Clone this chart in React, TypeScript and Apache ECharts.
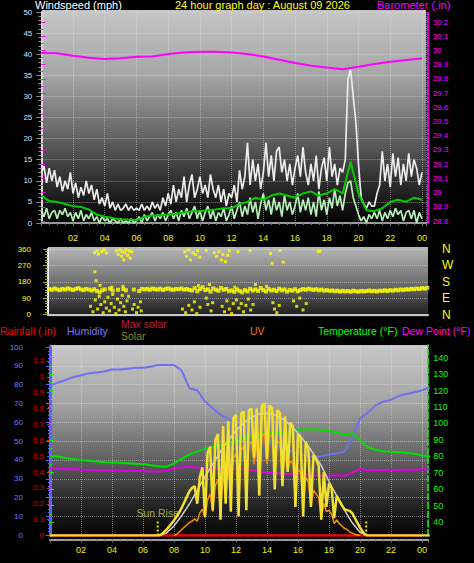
import React, { useEffect, useRef } from 'react';
import * as echarts from 'echarts';

const FONT = '"Liberation Sans", Arial, sans-serif';

// ---------- Wind (mph), 10-minute samples from 00:00 ----------
const windGust = [
  12, 13.5, 9.5, 13, 10, 12.5, 8.5, 11, 7.5, 10,
  8, 12, 7, 9.5, 6, 8.5, 6.5, 10, 7, 9,
  5.5, 8, 4.5, 6, 4, 7, 3.5, 5, 3, 4.5,
  3, 3.5, 4.5, 3, 4, 3, 3.5, 3, 4.5, 3,
  4, 3, 5, 3.5, 4.5, 3, 6, 4, 7, 4.5,
  9, 5, 8, 6, 11, 5, 9, 11.5, 6, 8,
  11, 7, 9, 6, 11.5, 8, 6, 9, 5, 8,
  4, 7, 6, 9, 5, 12.5, 8, 11, 19, 9,
  15, 10, 14, 8, 12, 19, 11, 16, 10, 17,
  18, 12, 15, 10, 14, 9, 13, 16, 11, 18,
  12, 9, 14, 10, 16, 8, 13, 15.5, 10, 18,
  11, 14, 9, 13, 12, 15, 34, 36.5, 30, 24,
  14, 6, 4.5, 3.5, 5, 4, 4, 7, 9, 17,
  10, 14, 8.5, 16.5, 11, 15.5, 9, 14, 10, 16.5,
  11, 15, 13, 9, 12,
];
const windAvg = [
  3, 1.5, 3.5, 1, 2.5, 3, 1, 3, 2, 3.5,
  1.5, 2.5, 0.5, 2.5, 1, 3, 0.5, 2, 1, 2.5,
  0.5, 1.5, 0, 1.5, 0.5, 1, 0, 1, 0.5, 0,
  1, 0, 0.5, 0, 1, 0, 0.5, 1.5, 0, 2,
  0.5, 1.5, 2.5, 0.5, 2, 1, 2.5, 0.5, 2, 3,
  1, 2.5, 0.5, 3, 1.5, 3.5, 1, 2.5, 4, 1,
  3, 0.5, 2.5, 4, 1, 3, 0.5, 2.5, 1.5, 3.5,
  0.5, 2, 4, 1, 3, 5, 1.5, 4, 2, 6,
  2.5, 5, 1, 4.5, 7, 3, 5.5, 2, 6, 3,
  5, 1.5, 6.5, 3, 5, 2, 4, 7, 2.5, 5.5,
  3, 6, 2, 5, 1.5, 7.5, 3, 5.5, 2, 6,
  3.5, 8, 4, 6.5, 3, 7, 9.5, 10, 6, 4,
  2, 0.5, 1.5, 0, 2, 1, 2.5, 1, 3, 0.5,
  2.5, 1, 3, 1.5, 3.5, 2, 3, 0.5, 2.5, 3,
  1, 3, 0, 2.5, 1,
];
// 10-minute average wind, 30-minute samples from 00:00
const windAvg10 = [
  6.5, 5.2, 5, 4.5, 4, 3.8, 3.2, 2, 1.5, 1.2,
  0.8, 0.8, 0.7, 1.5, 1.8, 1.8, 2, 2.2, 2.5, 2.8,
  2.8, 3, 3.2, 3.5, 3.5, 4.5, 5, 6, 5.5, 6.5,
  7, 6.5, 6, 7, 7.5, 6.5, 7, 8, 7, 14.5,
  7, 3, 2.8, 3.5, 5, 5.5, 5, 6, 5.5,
];
// Barometer (in), hourly from 00:00
const barometer = [
  29.982, 29.98, 29.962, 29.948, 29.94, 29.945, 29.955, 29.958, 29.975, 29.985,
  29.99, 29.99, 29.985, 29.975, 29.958, 29.935, 29.912, 29.893, 29.88, 29.868,
  29.885, 29.905, 29.92, 29.932, 29.944,
];

// ---------- Wind direction (deg), 10-minute samples from 00:30 ----------
const windDirBand: (number | null)[] = [
  140, 136, 143, 138, 134, 141, 137, 144, 139, 135, 140, 145, 138, 134, 141, 137, 132, 139,
  130, 122, 133,
  138, null, 142, 131, null, 136, null, 140, 133, null, null, 137, null, 129, 141,
  138, 141, 136, 143, 139, 137, 142, 135, 140, 144, 138, 136, 141, 139, 143, 137, 140, 135,
  132, 145, 128, 140, 150, 134, 138, 126, 143, 137, 131, 146,
  136, 140, 128, 133, 125, 138, 130, 122, 135, 127, 141, 132,
  138, 130, 145, 134, 127, 140, 132, 136, 129, 142, 133, 138, 126, 135, 131, 139, 128, 134,
  140, 136, 142, 138, 135, 139, 133, 137, 131, 134, 130, 132,
  128, 131, 126, 130, 127, 129, 125, 131, 128, 126, 130, 127, 129, 132, 128, 130, 127, 131,
  130, 133, 129, 134, 131, 136, 133, 138, 135, 139, 137, 141, 139, 143, 140, 145, 142, 147,
];
const windDirScatter: [number, number][] = [
  [3.35, 340], [3.5, 350], [3.6, 332], [3.8, 345], [3.95, 355], [4.1, 338], [3.38, 235], [3.45, 186],
  [4.75, 350], [4.85, 330], [4.95, 355], [5.05, 320], [5.1, 345], [5.2, 300], [5.25, 340], [5.35, 355],
  [5.45, 325], [5.55, 350], [5.6, 310], [5.7, 345],
  [9.05, 345], [9.15, 320], [9.3, 355], [9.4, 300], [9.55, 340], [9.7, 330], [9.85, 350], [10.0, 315], [10.4, 352],
  [10.9, 340], [11.05, 320], [11.2, 345], [11.35, 300], [11.45, 330], [11.6, 290], [11.75, 325], [11.85, 350], [12.4, 345],
  [13.15, 352], [14.45, 335], [14.55, 282], [15.05, 352], [15.25, 288], [17.45, 348], [17.55, 348],
  [3.1, 45], [3.25, 15], [3.4, 80], [3.55, 30], [3.65, 100], [3.75, 55], [3.9, 10], [4.0, 70], [4.1, 35],
  [4.2, 95], [4.3, 20], [4.4, 60], [4.5, 110], [4.6, 40], [4.7, 5], [4.8, 85], [4.9, 25], [5.0, 65],
  [5.1, 105], [5.2, 45], [5.3, 15], [5.4, 75], [5.5, 100],
  [5.75, 30], [5.85, 55], [6.0, 10], [6.1, 40], [6.25, 70], [6.3, 20],
  [8.9, 30], [9.1, 10], [9.3, 50], [9.5, 25], [9.65, 70], [9.8, 5], [10.0, 40],
  [10.4, 90], [10.5, 55], [10.7, 20], [10.8, 65],
  [11.4, 45], [11.55, 15], [11.7, 75], [11.85, 30], [12.0, 5], [12.1, 60],
  [12.3, 80], [12.45, 35], [12.6, 60], [12.75, 15], [12.9, 50], [13.05, 85], [13.2, 25], [13.35, 55],
  [14.6, 65], [14.7, 30], [14.85, 10], [15.0, 50],
  [15.9, 75], [16.1, 45], [16.3, 90], [16.5, 25], [16.7, 60],
  [3.7, 160], [4.45, 150], [5.15, 155], [9.9, 160], [10.6, 165], [12.2, 150], [13.5, 165], [14.2, 155],
];

// ---------- Bottom panel, 30-minute samples from 00:00 ----------
const humidity = [
  79.5, 81, 82.5, 84, 85, 86, 86.5, 87, 88, 88,
  88.5, 89, 89, 89.5, 90.5, 90.5, 90.5, 87.5, 78, 77,
  71, 67.5, 64, 62, 59, 57, 54, 51, 49, 48,
  46.5, 45, 43.5, 42.5, 41.5, 42, 43, 43.5, 44.5, 52,
  62, 65, 69, 71, 72, 74, 75, 76, 77, 78.5,
];
const temperature = [
  80, 79.8, 79, 78.3, 77.8, 77.3, 76.8, 76.4, 76.2, 76,
  75.8, 75.5, 75.3, 74.6, 74, 73.7, 75.5, 78.5, 81, 83,
  84.5, 85.5, 86.5, 88, 89.5, 91, 92, 93.5, 94.5, 94.5,
  94.5, 95, 96, 96.5, 96.5, 96, 95.5, 94.5, 93, 94,
  90, 85.5, 84, 83, 82.8, 82.5, 82, 81.5, 80.5, 80,
];
const dewPoint = [
  72.3, 72.5, 72.1, 72.3, 71.8, 71.7, 71.5, 71.5, 71.4, 71.3,
  71.2, 71, 71, 70.8, 70.7, 71, 72.5, 73.5, 73.7, 73.2,
  72.6, 72.3, 72.5, 72.6, 72.4, 72, 71.6, 70.8, 70.1, 69.8,
  69.3, 69, 68.7, 68.6, 68.4, 68.3, 68.2, 68.5, 68.2, 70,
  72.3, 71.5, 71.8, 71.6, 71.8, 71.5, 72, 71.7, 72.3, 72,
];
// Solar (W/m²), 10-minute samples from 07:00
const solar = [
  0, 5, 20, 35, 55, 75, 95, 120, 145, 175,
  210, 245, 280, 300, 310, 200, 370, 430, 120, 520,
  560, 160, 600, 640, 100, 690, 200, 720, 150, 740,
  760, 120, 770, 780, 160, 790, 800, 490, 800, 250,
  815, 835, 480, 820, 800, 290, 790, 770, 310, 750,
  400, 710, 690, 180, 640, 620, 120, 590, 550, 180,
  510, 480, 440, 100, 400, 180, 330, 300, 110, 250,
  220, 190, 165, 160, 155, 140, 110, 80, 50, 25,
  5, 0,
];
// Theoretical max solar, 30-minute samples from 07:00
const maxSolar = [
  0, 15, 60, 125, 200, 285, 370, 450, 530, 600,
  660, 710, 745, 765, 770, 760, 735, 695, 645, 585,
  515, 440, 340, 250, 160, 80, 20, 0,
];
// UV index, 10-minute samples from 08:00
const uvIndex = [
  0, 0.1, 0.3, 0.5, 0.7, 0.9, 1.1, 1.2, 1.4, 1.2,
  1.9, 2.2, 1.5, 3.0, 3.5, 2.0, 4.2, 4.7, 2.0, 5.4,
  3.0, 6.0, 3.5, 6.5, 6.9, 3.0, 7.2, 7.5, 3.5, 7.7,
  7.9, 6.0, 8.0, 4.0, 8.3, 8.6, 6.0, 8.5, 8.3, 5.0,
  8.0, 7.7, 5.0, 6.8, 5.5, 6.3, 6.0, 3.0, 5.6, 5.3,
  2.5, 4.9, 4.5, 2.5, 3.8, 3.5, 3.2, 1.5, 2.7, 2.0,
  2.1, 1.8, 1.0, 1.3, 1.0, 0.8, 0.6, 0.5, 0.3, 0.2,
  0.1, 0.05, 0,
];
// Rainfall (in), hourly from 00:00
const rainfall = [0, 0, 0, 0, 0, 0, 0, 0, 0, 0, 0, 0, 0, 0, 0, 0, 0, 0, 0, 0, 0, 0, 0, 0, 0];
const solarNightStart = 0;
const solarNightEnd = 24.5;
const sunRise = 6.95;
const sunSet = 20.4;
const sunMarkerHeight = 100;
const dirLetters: Record<number, string> = { 0: 'N', 90: 'E', 180: 'S', 270: 'W', 360: 'N' };

const series = (arr: (number | null)[], start: number, step: number) =>
  arr
    .map((v, i) => [start + i * step, v] as [number, number | null])
    .filter((p) => p[1] !== null);

const fmtHour = (v: number) => {
  const r = Math.round(v);
  if (Math.abs(v - r) > 1e-6 || r === 0 || r % 2) return '';
  return String(r % 24).padStart(2, '0');
};

const GRID_LINE = { type: 'dotted' as const, color: 'rgba(235,235,235,0.45)', width: 1 };

function buildOption() {
  const bgTop = new echarts.graphic.LinearGradient(0, 0, 0, 1, [
    { offset: 0, color: '#c6c6c6' },
    { offset: 0.3, color: '#a6a6a6' },
    { offset: 0.55, color: '#6c6c6c' },
    { offset: 0.8, color: '#2c2c2c' },
    { offset: 1, color: '#000000' },
  ]);
  const bgMid = new echarts.graphic.LinearGradient(0, 0, 0, 1, [
    { offset: 0, color: '#b8b8b8' },
    { offset: 0.5, color: '#707070' },
    { offset: 1, color: '#1a1a1a' },
  ]);
  const bgBot = new echarts.graphic.LinearGradient(0, 0, 0, 1, [
    { offset: 0, color: '#c8c8c8' },
    { offset: 0.3, color: '#a4a4a4' },
    { offset: 0.55, color: '#6a6a6a' },
    { offset: 0.8, color: '#282828' },
    { offset: 1, color: '#000000' },
  ]);
  const txt = (text: string, x: number, y: number, fill: string, size = 10.5) => ({
    type: 'text',
    x,
    y,
    silent: true,
    style: { text, fill, font: `${size}px ${FONT}`, textVerticalAlign: 'middle', verticalAlign: 'middle' },
  });

  return {
    animation: false,
    backgroundColor: '#000000',
    textStyle: { fontFamily: FONT },
    graphic: [
      { type: 'rect', z: -10, silent: true, shape: { x: 42, y: 10, width: 384, height: 216 }, style: { fill: bgTop } },
      { type: 'rect', z: -10, silent: true, shape: { x: 48, y: 247, width: 380, height: 70 }, style: { fill: bgMid } },
      { type: 'rect', z: -10, silent: true, shape: { x: 51, y: 345, width: 377, height: 195 }, style: { fill: bgBot } },
      txt('Windspeed (mph)', 35, 4.5, '#ffffff', 11),
      txt('24 hour graph day : August 09 2026', 175, 4.5, '#ffff00', 11),
      txt('Barometer (.in)', 377, 4.5, '#ff00ff', 11),
      txt('Rainfall (.in)', 0, 330.5, '#ff0000'),
      txt('Humidity', 67, 330.5, '#7878ff'),
      txt('Max solar', 121, 323.5, '#c8183c'),
      txt('Solar', 121, 335.8, '#8a8a28'),
      txt('UV', 250, 330.5, '#f07818'),
      txt('Temperature (°F)', 318, 330.5, '#00ff00'),
      txt('Dew Point (°F)', 402, 330.5, '#ff00ff'),
    ],
    grid: [
      { left: 41.3, top: 12, width: 384.6, height: 211 },
      { left: 41.3, top: 22, width: 384.6, height: 199 },
      { left: 48, top: 249, width: 380, height: 65.5 },
      { left: 50, top: 345, width: 378.2, height: 190.5 },
      { left: 50, top: 347, width: 378.2, height: 188.3 },
      { left: 50, top: 357.7, width: 378.2, height: 164.3 },
    ],
    xAxis: [
      {
        gridIndex: 0, type: 'value', min: 0, max: 24.25, interval: 2, offset: 3,
        axisLine: { show: true, lineStyle: { color: '#9a9a9a', width: 2 } },
        axisTick: { show: true, length: 3, lineStyle: { color: '#777' } },
        minorTick: { show: true, splitNumber: 4, length: 2, lineStyle: { color: '#777' } },
        axisLabel: { color: '#f0f000', fontSize: 9, margin: 7, formatter: fmtHour, fontFamily: FONT },
        splitLine: { show: true, lineStyle: GRID_LINE },
      },
      { gridIndex: 1, type: 'value', min: 0, max: 24.25, show: false },
      {
        gridIndex: 2, type: 'value', min: 0.42, max: 24.38,
        axisLine: { show: true, onZero: false, lineStyle: { color: '#c8c8c8', width: 2 } },
        axisTick: { show: false }, axisLabel: { show: false }, splitLine: { show: false },
      },
      {
        gridIndex: 3, type: 'value', min: 0, max: 24.4, interval: 2, offset: 4,
        axisLine: { show: true, onZero: false, lineStyle: { color: '#a0a0a0', width: 2 } },
        axisTick: { show: true, length: 3, lineStyle: { color: '#777' } },
        minorTick: { show: true, splitNumber: 4, length: 2, lineStyle: { color: '#777' } },
        axisLabel: { color: '#f0f000', fontSize: 9, margin: 6, formatter: fmtHour, fontFamily: FONT },
        splitLine: { show: true, lineStyle: GRID_LINE },
      },
      { gridIndex: 4, type: 'value', min: 0, max: 24.4, show: false },
      { gridIndex: 5, type: 'value', min: 0, max: 24.4, show: false },
    ],
    yAxis: [
      {
        gridIndex: 0, type: 'value', min: 0, max: 50, interval: 5,
        axisLine: { show: true, lineStyle: { color: '#d8d8d8', width: 2 } },
        axisTick: { show: true, length: 5, lineStyle: { color: '#8a8a8a' } },
        minorTick: { show: true, splitNumber: 5, length: 3, lineStyle: { color: '#8a8a8a' } },
        axisLabel: { color: '#d0e4ff', fontSize: 8, margin: 9, fontFamily: FONT },
        splitLine: { show: true, lineStyle: GRID_LINE },
      },
      {
        gridIndex: 0, type: 'value', position: 'right', offset: 2, min: 0, max: 1,
        axisLine: { show: true, lineStyle: { color: '#ff00ff', type: 'dotted', width: 2 } },
        axisTick: { show: false }, axisLabel: { show: false }, splitLine: { show: false },
      },
      {
        gridIndex: 1, type: 'value', position: 'right', offset: 2, min: 28.8, max: 30.2, interval: 0.1,
        axisLine: { show: false },
        axisTick: { show: true, length: 4, lineStyle: { color: '#ff00ff' } },
        minorTick: { show: true, splitNumber: 2, length: 2, lineStyle: { color: '#ff00ff' } },
        axisLabel: { color: '#ff00ff', fontSize: 8, margin: 5, fontFamily: FONT },
        splitLine: { show: false },
      },
      {
        gridIndex: 2, type: 'value', min: 0, max: 360, interval: 90,
        axisLine: { show: true, lineStyle: { color: '#f0f0f0', width: 2 } },
        axisTick: { show: true, length: 5, lineStyle: { color: '#b0b020' } },
        minorTick: { show: true, splitNumber: 6, length: 3, lineStyle: { color: '#b0b020' } },
        axisLabel: { color: '#ffff00', fontSize: 8, margin: 17, fontFamily: FONT },
        splitLine: { show: true, lineStyle: GRID_LINE },
      },
      {
        gridIndex: 2, type: 'value', position: 'right', min: 0, max: 360, interval: 90,
        axisLine: { show: false }, axisTick: { show: false }, splitLine: { show: false },
        axisLabel: { color: '#ffff00', fontSize: 12, margin: 14, fontFamily: FONT, formatter: (v: number) => dirLetters[v] ?? '' },
      },
      {
        gridIndex: 3, type: 'value', min: 0, max: 1.2, interval: 0.1,
        axisLine: { show: true, lineStyle: { color: '#ff2020', type: 'dashed', width: 1.5 } },
        axisTick: { show: true, length: 3, lineStyle: { color: '#ff2020' } },
        axisLabel: { color: '#e00000', fontSize: 8, margin: 6, showMaxLabel: false, fontFamily: FONT },
        splitLine: { show: false },
      },
      { gridIndex: 3, type: 'value', min: 0, max: 1200, show: false },
      { gridIndex: 3, type: 'value', min: 0, max: 16, show: false },
      {
        gridIndex: 3, type: 'value', position: 'right', min: 0, max: 1,
        axisLine: { show: true, lineStyle: { color: '#00ff00', type: 'dashed', width: 1.5 } },
        axisTick: { show: false }, axisLabel: { show: false }, splitLine: { show: false },
      },
      {
        gridIndex: 4, type: 'value', position: 'left', offset: 21, min: 0, max: 100, interval: 10,
        axisLine: { show: true, lineStyle: { color: '#6060ff', width: 3 } },
        axisTick: { show: true, length: 4, lineStyle: { color: '#6060ff' } },
        minorTick: { show: true, splitNumber: 5, length: 2, lineStyle: { color: '#6060ff' } },
        axisLabel: { color: '#6a7eff', fontSize: 8, margin: 6, fontFamily: FONT },
        splitLine: { show: true, lineStyle: GRID_LINE },
      },
      {
        gridIndex: 5, type: 'value', position: 'right', min: 40, max: 140, interval: 10,
        axisLine: { show: false },
        axisTick: { show: true, length: 4, lineStyle: { color: '#00ff00' } },
        minorTick: { show: true, splitNumber: 2, length: 2, lineStyle: { color: '#00ff00' } },
        axisLabel: { color: '#00ff00', fontSize: 9, margin: 5, fontFamily: FONT },
        splitLine: { show: false },
      },
    ],
    series: [
      // top panel
      { name: 'Gust', type: 'line', xAxisIndex: 0, yAxisIndex: 0, data: series(windGust, 0, 1 / 6), showSymbol: false, lineStyle: { color: '#ececec', width: 1.7 } },
      { name: 'Wind', type: 'line', xAxisIndex: 0, yAxisIndex: 0, data: series(windAvg, 0, 1 / 6), showSymbol: false, lineStyle: { color: '#b8eeb8', width: 1.7 } },
      { name: 'Wind 10', type: 'line', xAxisIndex: 0, yAxisIndex: 0, data: series(windAvg10, 0, 0.5), showSymbol: false, lineStyle: { color: '#00cc00', width: 2 } },
      { name: 'Barometer', type: 'line', xAxisIndex: 1, yAxisIndex: 2, data: series(barometer, 0, 1), showSymbol: false, lineStyle: { color: '#ff00ff', width: 2 } },
      // direction panel
      { name: 'Dir', type: 'scatter', xAxisIndex: 2, yAxisIndex: 3, data: series(windDirBand, 0.5, 1 / 6), symbol: 'rect', symbolSize: 4, itemStyle: { color: '#ffff00' } },
      { name: 'Dir2', type: 'scatter', xAxisIndex: 2, yAxisIndex: 3, data: windDirScatter, symbol: 'rect', symbolSize: 3, itemStyle: { color: '#ffff00' } },
      // bottom panel
      { name: 'Rainfall', type: 'line', xAxisIndex: 3, yAxisIndex: 5, data: series(rainfall, 0, 1), showSymbol: false, lineStyle: { color: '#ff0000', width: 2.5 } },
      { name: 'Humidity', type: 'line', xAxisIndex: 4, yAxisIndex: 9, data: series(humidity, 0, 0.5), showSymbol: false, lineStyle: { color: '#7070f0', width: 2 } },
      { name: 'Temperature', type: 'line', xAxisIndex: 5, yAxisIndex: 10, data: series(temperature, 0, 0.5), showSymbol: false, lineStyle: { color: '#00e000', width: 2 } },
      { name: 'Dew', type: 'line', xAxisIndex: 5, yAxisIndex: 10, data: series(dewPoint, 0, 0.5), showSymbol: false, lineStyle: { color: '#e000e0', width: 2 } },
      { name: 'Max solar', type: 'line', xAxisIndex: 3, yAxisIndex: 6, data: series(maxSolar, 7, 0.5), showSymbol: false, lineStyle: { color: '#cfcfcf', width: 1.5 } },
      { name: 'UV', type: 'line', xAxisIndex: 3, yAxisIndex: 7, data: series(uvIndex, 8, 1 / 6), showSymbol: false, lineStyle: { color: '#ff8a00', width: 1.5 } },
      {
        name: 'Solar', type: 'line', xAxisIndex: 3, yAxisIndex: 6,
        data: [[solarNightStart, 0], ...series(solar, 7, 1 / 6), [solarNightEnd, 0]],
        showSymbol: false, lineStyle: { color: '#f2e030', width: 2.5 },
      },
      { name: 'SunRiseLine', type: 'line', xAxisIndex: 3, yAxisIndex: 6, data: [[sunRise, 0], [sunRise, sunMarkerHeight]], showSymbol: false, lineStyle: { color: '#e8e800', type: 'dotted', width: 2 } },
      { name: 'SunSetLine', type: 'line', xAxisIndex: 3, yAxisIndex: 6, data: [[sunSet, 0], [sunSet, sunMarkerHeight]], showSymbol: false, lineStyle: { color: '#e8e800', type: 'dotted', width: 2 } },
      {
        name: 'SunRiseLabel', type: 'scatter', xAxisIndex: 3, yAxisIndex: 6, data: [[sunRise, sunMarkerHeight]],
        symbolSize: 1, itemStyle: { color: 'rgba(0,0,0,0)' },
        label: { show: true, position: 'top', distance: 1, formatter: 'Sun Rise', color: '#c8c848', fontSize: 10.5, fontFamily: FONT },
      },
    ],
  };
}

export default function App() {
  const ref = useRef<HTMLDivElement>(null);
  useEffect(() => {
    document.body.style.margin = '0';
    document.body.style.background = '#000';
    if (!ref.current) return;
    const chart = echarts.init(ref.current, null, { renderer: 'svg' });
    chart.setOption(buildOption() as any);
    return () => chart.dispose();
  }, []);
  return <div ref={ref} style={{ position: 'absolute', left: 0, top: 0, width: 474, height: 563 }} />;
}
